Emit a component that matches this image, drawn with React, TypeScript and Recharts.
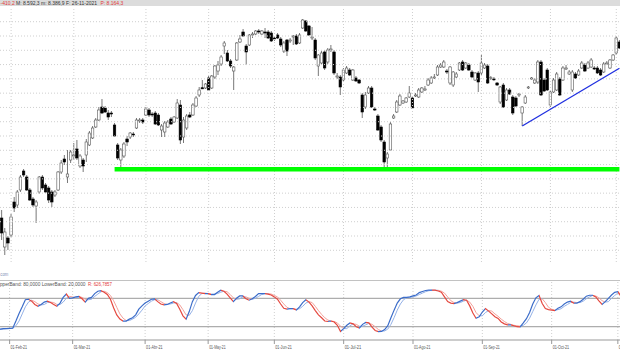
import React from "react";
import { ComposedChart, Bar, Line, XAxis, YAxis, ReferenceLine } from "recharts";

// IBEX 35 diario, 26-ene-21 .. 02-nov-21
const opens = [
  7954, 7926, 7723, 7786, 7807, 8038, 8017, 8122, 8255, 8213,
  8122, 8059, 8010, 8108, 8213, 8157, 8136, 8108, 8087, 8122,
  8248, 8339, 8213, 8332, 8360, 8409, 8290, 8332, 8367, 8437,
  8486, 8563, 8612, 8703, 8696, 8661, 8661, 8577, 8437, 8332,
  8360, 8479, 8493, 8514, 8556, 8605, 8612, 8647, 8682, 8654,
  8661, 8647, 8542, 8528, 8563, 8619, 8598, 8626, 8717, 8493,
  8556, 8647, 8647, 8710, 8787, 8838, 8836, 8906, 8836, 8913,
  8955, 9004, 9130, 9081, 9025, 8955, 9032, 9158, 9228, 9130,
  9137, 9207, 9214, 9235, 9214, 9228, 9228, 9221, 9186, 9207,
  9179, 9095, 9172, 9165, 9193, 9200, 9151, 9256, 9305, 9270,
  9186, 9172, 8990, 9011, 9088, 9018, 9102, 9088, 8913, 8913,
  8892, 8941, 8962, 8892, 8906, 8892, 8787, 8703, 8801, 8836,
  8689, 8640, 8563, 8458, 8346, 8402, 8626, 8668, 8717, 8731,
  8738, 8773, 8766, 8780, 8773, 8808, 8822, 8857, 8871, 8906,
  8927, 8983, 8983, 8955, 8871, 8857, 8913, 8962, 9018, 8976,
  8997, 8948, 8892, 8941, 8941, 8976, 8990, 8906, 8899, 8871,
  8738, 8857, 8752, 8822, 8773, 8766, 8787, 8661, 8731, 8836,
  8899, 8871, 8878, 9018, 8892, 8962, 8717, 8808, 8822, 8899,
  8892, 8969, 8934, 8822, 8934, 8927, 8976, 8997, 8976, 8983,
  8976, 8976, 8962, 8948, 9004, 8976, 9032, 9081, 9158,
];
const highs = [
  8017, 7982, 7856, 7800, 7954, 8073, 8122, 8227, 8269, 8227,
  8136, 8073, 8052, 8220, 8227, 8171, 8150, 8122, 8122, 8255,
  8332, 8367, 8402, 8402, 8451, 8472, 8374, 8346, 8479, 8535,
  8570, 8626, 8703, 8759, 8710, 8682, 8675, 8591, 8451, 8416,
  8458, 8500, 8528, 8528, 8626, 8626, 8626, 8703, 8696, 8668,
  8675, 8661, 8584, 8605, 8612, 8633, 8640, 8759, 8752, 8633,
  8654, 8668, 8731, 8780, 8843, 8892, 8871, 8920, 8927, 8997,
  9025, 9067, 9165, 9102, 9039, 8990, 9158, 9207, 9249, 9144,
  9214, 9228, 9242, 9249, 9242, 9256, 9242, 9235, 9200, 9221,
  9193, 9165, 9179, 9186, 9207, 9214, 9221, 9319, 9312, 9277,
  9263, 9186, 9074, 9095, 9102, 9116, 9137, 9102, 8941, 8927,
  8976, 8990, 8976, 8969, 8920, 8899, 8801, 8808, 8850, 8850,
  8703, 8654, 8577, 8472, 8388, 8598, 8654, 8752, 8794, 8752,
  8773, 8850, 8780, 8801, 8836, 8843, 8850, 8906, 8920, 8934,
  8997, 9011, 9032, 8969, 8990, 8955, 8948, 9018, 9032, 9018,
  9011, 8962, 8948, 8955, 9067, 9011, 9004, 8920, 8913, 8878,
  8850, 8871, 8836, 8836, 8787, 8780, 8801, 8710, 8787, 8850,
  8913, 8906, 9032, 9032, 8906, 8976, 8815, 8906, 8948, 8913,
  8990, 8997, 8962, 8962, 8948, 8969, 9025, 9011, 9025, 9046,
  8990, 8990, 8976, 9018, 9025, 9039, 9074, 9200, 9172,
];
const lows = [
  7926, 7772, 7667, 7702, 7793, 7968, 7996, 8108, 8213, 8115,
  8045, 8003, 7891, 8094, 8122, 8101, 8031, 8003, 8073, 8115,
  8234, 8297, 8171, 8311, 8332, 8332, 8276, 8248, 8318, 8430,
  8479, 8556, 8605, 8654, 8661, 8612, 8633, 8493, 8332, 8283,
  8346, 8430, 8479, 8493, 8549, 8591, 8584, 8640, 8633, 8633,
  8577, 8570, 8493, 8493, 8556, 8577, 8591, 8619, 8444, 8451,
  8542, 8626, 8640, 8703, 8773, 8829, 8829, 8815, 8829, 8899,
  8927, 8990, 9074, 9018, 8976, 8822, 9025, 9151, 9193, 8997,
  9130, 9186, 9207, 9214, 9207, 9186, 9179, 9158, 9165, 9179,
  9123, 9081, 9060, 9151, 9137, 9137, 9144, 9249, 9228, 9200,
  9172, 9032, 8920, 8997, 8962, 9004, 9088, 8927, 8899, 8787,
  8878, 8934, 8920, 8885, 8878, 8864, 8626, 8689, 8794, 8696,
  8675, 8535, 8458, 8276, 8262, 8395, 8619, 8661, 8710, 8724,
  8731, 8766, 8689, 8773, 8766, 8801, 8815, 8850, 8864, 8899,
  8920, 8976, 8976, 8934, 8857, 8843, 8906, 8955, 8955, 8969,
  8955, 8906, 8885, 8808, 8927, 8969, 8864, 8892, 8885, 8850,
  8724, 8696, 8745, 8787, 8647, 8703, 8773, 8570, 8724, 8829,
  8892, 8864, 8864, 8780, 8808, 8815, 8703, 8801, 8815, 8780,
  8885, 8962, 8927, 8808, 8899, 8920, 8969, 8948, 8969, 8976,
  8962, 8934, 8920, 8941, 8997, 8969, 9025, 9067, 9109,
];
const closes = [
  7982, 7821, 7828, 7751, 7933, 7996, 8108, 8213, 8227, 8122,
  8052, 8017, 8038, 8213, 8136, 8108, 8052, 8038, 8108, 8248,
  8311, 8318, 8234, 8388, 8367, 8346, 8360, 8290, 8458, 8521,
  8556, 8612, 8682, 8661, 8668, 8633, 8654, 8500, 8346, 8402,
  8444, 8458, 8521, 8507, 8612, 8612, 8598, 8689, 8647, 8647,
  8584, 8577, 8570, 8591, 8598, 8584, 8633, 8731, 8472, 8612,
  8640, 8633, 8717, 8766, 8822, 8830, 8864, 8822, 8920, 8990,
  8997, 9053, 9151, 9025, 8990, 8983, 9151, 9179, 9200, 9088,
  9207, 9214, 9235, 9228, 9235, 9221, 9186, 9165, 9179, 9186,
  9137, 9151, 9095, 9172, 9200, 9144, 9207, 9312, 9235, 9207,
  9193, 9046, 9067, 9081, 8976, 9102, 9109, 8941, 8920, 8843,
  8962, 8976, 8927, 8962, 8885, 8871, 8668, 8787, 8836, 8703,
  8682, 8542, 8472, 8318, 8374, 8584, 8640, 8738, 8780, 8745,
  8766, 8801, 8696, 8787, 8822, 8836, 8829, 8892, 8906, 8913,
  8983, 8997, 9018, 8948, 8983, 8948, 8934, 9011, 8962, 9011,
  8962, 8913, 8941, 8878, 9011, 8997, 8871, 8908, 8897, 8857,
  8843, 8703, 8822, 8794, 8661, 8710, 8794, 8703, 8773, 8843,
  8906, 8892, 9018, 8787, 8815, 8822, 8808, 8892, 8934, 8787,
  8976, 8976, 8948, 8948, 8906, 8955, 9011, 8955, 9011, 9032,
  8969, 8941, 8927, 9004, 9011, 9032, 9067, 9186, 9116,
];
// estocastico: linea principal y senal
const stochK = [
  14, 15, 16, 16, 16.5, 17, 32, 48, 62, 77,
  78, 74, 67, 63, 67, 72, 74, 71, 67, 63,
  70, 82, 89, 80, 81, 83, 84, 79, 72, 80,
  82, 90, 95, 96, 93, 88, 78, 60, 45, 36,
  32, 32, 36, 39, 45, 57, 64, 70, 74, 78,
  79, 73, 68, 66, 67, 70, 73, 69, 57, 43,
  36, 52, 73, 86, 92, 91, 90, 90, 88, 88,
  93, 97, 95, 89, 81, 73, 80, 85, 85, 79,
  76, 79, 84, 90, 90, 90, 89, 87, 83, 78,
  68, 59, 57, 58, 58, 55, 62, 71, 77, 72,
  64, 54, 45, 39, 32, 31, 32, 30, 23, 10,
  16, 23, 28, 26, 20, 17, 25, 29, 28, 19,
  12, 9.6, 10, 14, 22, 39, 55, 70, 79, 82,
  82, 83, 85, 87, 92, 94.5, 96.5, 97.5, 97.6, 97.3,
  95.5, 93, 83, 73, 70, 69, 71, 74, 77, 76,
  64, 49, 38, 41, 51, 58.5, 53, 47, 41, 37.5,
  30, 26, 24, 24, 22, 20, 19.5, 28, 37, 50,
  68, 81, 86, 69, 58.5, 56, 55, 54, 59, 62,
  68, 72, 74, 70, 70, 73, 78, 84.5, 86.5, 86.5,
  83, 74.5, 67, 73, 80, 87, 92.5, 94, 84,
];
const stochD = [
  14, 14, 15, 16, 16, 17, 22, 32, 47, 62,
  72, 76, 73, 68, 66, 67, 71, 72, 71, 67,
  67, 72, 80, 84, 83, 81, 83, 82, 78, 77,
  78, 84, 89, 94, 95, 92, 86, 75, 61, 47,
  38, 33, 33, 36, 40, 47, 55, 64, 69, 74,
  77, 77, 73, 69, 67, 68, 70, 71, 66, 56,
  45, 44, 54, 70, 84, 90, 91, 90, 89, 89,
  90, 93, 95, 94, 88, 81, 78, 79, 83, 83,
  80, 78, 80, 84, 88, 90, 90, 89, 86, 83,
  76, 68, 61, 58, 58, 57, 58, 63, 70, 73,
  71, 63, 54, 46, 39, 34, 32, 31, 28, 21,
  16, 16, 22, 26, 25, 21, 21, 24, 27, 25,
  20, 14, 11, 11, 15, 25, 39, 55, 68, 77,
  81, 82, 83, 85, 88, 91, 94, 96, 97, 97,
  97, 95, 91, 83, 75, 71, 70, 71, 74, 76,
  72, 63, 50, 43, 43, 50, 54, 53, 47, 42,
  36, 31, 27, 25, 23, 22, 21, 23, 28, 38,
  52, 66, 78, 79, 71, 61, 57, 55, 56, 58,
  63, 67, 71, 72, 71, 71, 74, 79, 83, 86,
  85, 81, 75, 72, 73, 80, 86, 91, 90,
];

const holidays = ["2021-04-02", "2021-04-05"];
const monthTicks = [
  "2021-02-01", "2021-03-01", "2021-04-01", "2021-05-03", "2021-06-01",
  "2021-07-01", "2021-08-02", "2021-09-01", "2021-10-01", "2021-11-01",
];
const monthLabels = [
  "01-Feb-21", "01-Mar-21", "01-Abr-21", "01-May-21", "01-Jun-21",
  "01-Jul-21", "01-Ago-21", "01-Sep-21", "01-Oct-21", "01-Nov-21",
];
const priceGrid = [7700, 7800, 7900, 8000, 8100, 8200, 8300, 8400, 8500, 8600, 8700, 8800, 8900, 9000, 9100, 9200, 9300];
const supportLevel = 8267;
const supportFrom = 37;
const trendStart = { idx: 167, price: 8570 };
const trendEnd = { idx: 198, price: 8974 };

function tradingDays(start: string, count: number) {
  const out: string[] = [];
  const d = new Date(start + "T00:00:00Z");
  while (out.length < count) {
    const wd = d.getUTCDay();
    const iso = d.toISOString().slice(0, 10);
    if (wd !== 0 && wd !== 6 && !holidays.includes(iso)) out.push(iso);
    d.setUTCDate(d.getUTCDate() + 1);
  }
  return out;
}

const days = tradingDays("2021-01-26", opens.length);
const rows = days.map((day, i) => ({
  day,
  open: opens[i],
  high: highs[i],
  low: lows[i],
  close: closes[i],
  range: [lows[i], highs[i]],
  k: stochK[i],
  d: stochD[i],
}));

const FONT = "'Liberation Sans', Arial, sans-serif";
const GRID = "#cfcfcf";
const RED = "#e23a3a";

function Candle(props: any) {
  const { x, y, width, height, payload } = props;
  const h = Math.abs(height);
  const top = Math.min(y, y + height);
  const k = h / (payload.high - payload.low);
  const cx = x + width / 2;
  const yO = top + (payload.high - payload.open) * k;
  const yC = top + (payload.high - payload.close) * k;
  const up = payload.close >= payload.open;
  const bw = 2.5;
  return (
    <g>
      <line x1={cx} x2={cx} y1={top} y2={top + h} stroke="#555" strokeWidth={0.8} />
      <rect
        x={cx - bw / 2}
        y={Math.min(yO, yC)}
        width={bw}
        height={Math.max(Math.abs(yO - yC), 0.8)}
        fill={up ? "#fff" : "#000"}
        stroke={up ? "#555" : "#000"}
        strokeWidth={0.6}
      />
    </g>
  );
}

function slopeStops(vals: number[], up: string, down: string) {
  const n = vals.length - 1;
  const stops: React.ReactNode[] = [];
  for (let j = 0; j < n; j++) {
    const c = vals[j + 1] >= vals[j] ? up : down;
    stops.push(<stop key={"a" + j} offset={j / n} stopColor={c} />);
    stops.push(<stop key={"b" + j} offset={(j + 1) / n} stopColor={c} />);
  }
  return stops;
}

function MonthTick(props: any) {
  const { x, y, payload } = props;
  const label = monthLabels[monthTicks.indexOf(payload.value)];
  return (
    <text x={x + 1} y={y + 4.3} fontSize={6} fill="#555" fontFamily={FONT} textLength={16.5} lengthAdjust="spacingAndGlyphs">
      {label}
    </text>
  );
}

function Squeezed(props: { x: number; y: number; w: number; size: number; fill: string; children: string }) {
  return (
    <text x={props.x} y={props.y} fontSize={props.size} fontFamily={FONT} fill={props.fill} textLength={props.w} lengthAdjust="spacingAndGlyphs">
      {props.children}
    </text>
  );
}

function Small(props: { x: number; y: number; size: number; fill: string; children: string }) {
  return (
    <text x={props.x} y={props.y} fontSize={props.size} fontFamily={FONT} fill={props.fill}>
      {props.children}
    </text>
  );
}

export default function App() {
  return (
    <div style={{ position: "absolute", left: 0, top: 0, width: 620, height: 350, overflow: "hidden", background: "#fff" }}>
      <div style={{ position: "absolute", left: -3.41, top: 7 }}>
        <ComposedChart width={624} height={255} data={rows} margin={{ top: 0, right: 0, bottom: 0, left: 0 }} barCategoryGap={0} barGap={0}>
          <XAxis dataKey="day" hide />
          <YAxis hide domain={[7618, 9403]} allowDataOverflow />
          {priceGrid.map((p) => (
            <ReferenceLine key={p} y={p} stroke={GRID} strokeDasharray="1 2" />
          ))}
          {monthTicks.map((t) => (
            <ReferenceLine key={t} x={t} stroke={GRID} strokeDasharray="1 2" />
          ))}
          <Bar dataKey="range" shape={(p: any) => <Candle {...p} />} isAnimationActive={false} />
          <ReferenceLine
            segment={[
              { x: days[supportFrom], y: supportLevel },
              { x: days[days.length - 1], y: supportLevel },
            ]}
            stroke="#00ff00"
            strokeWidth={4.5}
          />
          <ReferenceLine
            segment={[
              { x: days[trendStart.idx], y: trendStart.price },
              { x: days[trendEnd.idx], y: trendEnd.price },
            ]}
            stroke="#1f2fe0"
            strokeWidth={1.3}
          />
        </ComposedChart>
      </div>

      <div style={{ position: "absolute", left: -3.41, top: 280 }}>
        <ComposedChart width={624} height={70} data={rows} margin={{ top: 0, right: 0, bottom: 0, left: 0 }}>
          <defs>
            <linearGradient id="gradK" x1="0" y1="0" x2="1" y2="0">
              {slopeStops(stochK, "#3b6cc9", "#e5483f")}
            </linearGradient>
            <linearGradient id="gradD" x1="0" y1="0" x2="1" y2="0">
              {slopeStops(stochD, "#93b0e6", "#f2a09a")}
            </linearGradient>
          </defs>
          <XAxis
            dataKey="day"
            ticks={monthTicks}
            interval={0}
            height={10}
            tickSize={4}
            tickMargin={1}
            axisLine={{ stroke: "#999" }}
            tickLine={{ stroke: "#999" }}
            tick={(p: any) => <MonthTick {...p} />}
          />
          <YAxis hide domain={[-8.1, 118.7]} allowDataOverflow />
          {monthTicks.map((t) => (
            <ReferenceLine key={t} x={t} stroke={GRID} strokeDasharray="1 2" />
          ))}
          <ReferenceLine y={118.5} stroke="#999" />
          <ReferenceLine y={80} stroke="#999" />
          <ReferenceLine y={20} stroke="#999" />
          <Line dataKey="d" stroke="url(#gradD)" strokeWidth={1} dot={false} isAnimationActive={false} />
          <Line dataKey="k" stroke="url(#gradK)" strokeWidth={1.2} dot={false} isAnimationActive={false} />
        </ComposedChart>
      </div>

      <svg width={620} height={350} style={{ position: "absolute", left: 0, top: 0, pointerEvents: "none" }}>
        <rect x={0} y={0} width={620} height={6} fill="#dcdcdc" />
        <Small x={0.5} y={5.3} size={5} fill={RED}>-410,2</Small>
        <Small x={16} y={5.3} size={5} fill="#333">M: 8.592,3 m: 8.386,9 F: 26-11-2021</Small>
        <Small x={100.5} y={5.3} size={5} fill={RED}>P: 8.164,3</Small>
        <Squeezed x={0.3} y={275.5} w={8} size={5} fill="#8391b5">com</Squeezed>
        <Squeezed x={-3.5} y={285.6} w={89} size={5} fill="#555">UpperBand: 80,0000 LowerBand: 20,0000</Squeezed>
        <Squeezed x={88} y={285.6} w={24} size={5} fill={RED}>R: 626,7857</Squeezed>
      </svg>
    </div>
  );
}
